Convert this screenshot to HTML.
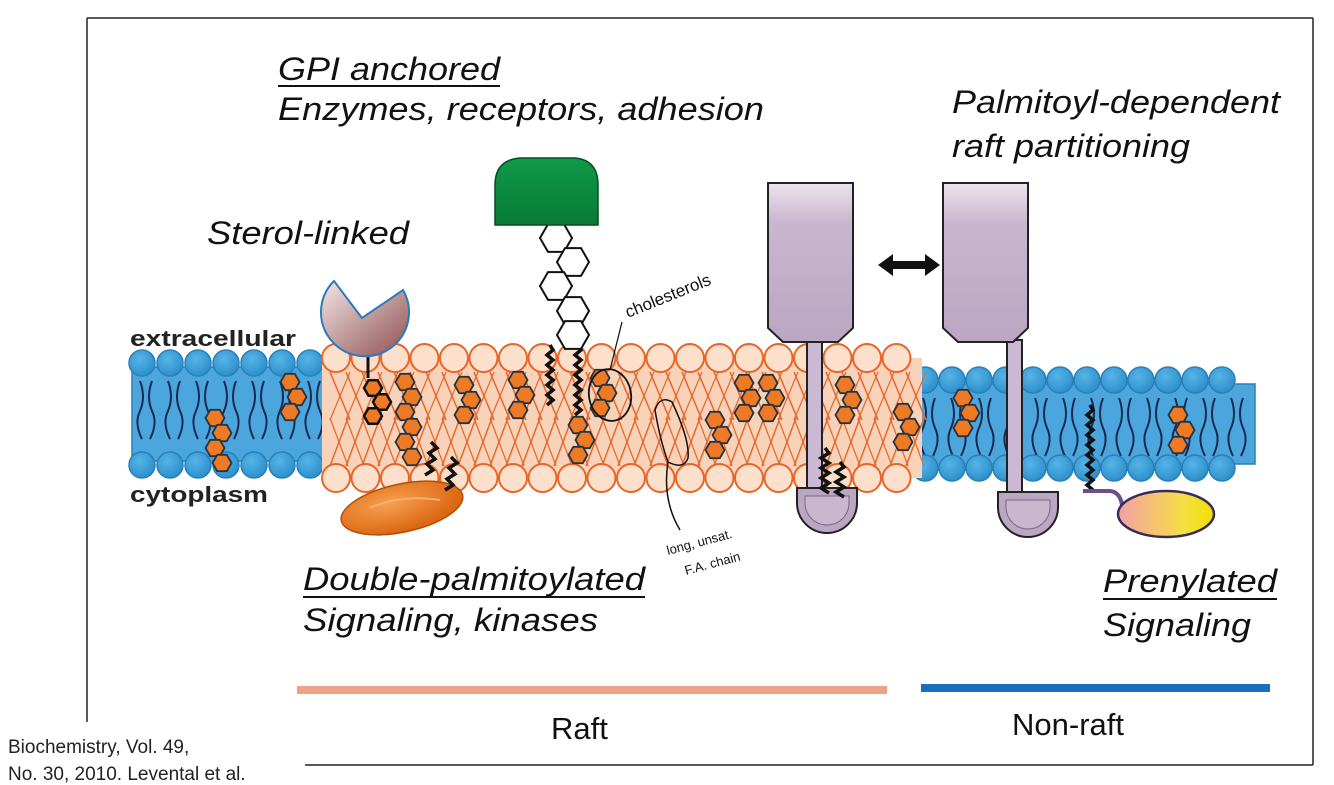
<!DOCTYPE html>
<html><head><meta charset="utf-8"><style>
html,body{margin:0;padding:0;background:#fff;}
svg{display:block;}
text{font-family:"Liberation Sans",sans-serif;}
.it{font-style:italic;font-size:32px;fill:#111;}
</style></head><body>
<svg id="s" width="1334" height="785" viewBox="0 0 1334 785" xmlns="http://www.w3.org/2000/svg">
<defs>
<linearGradient id="purp" x1="0" y1="0" x2="0" y2="1"><stop offset="0" stop-color="#ece4ee"/><stop offset="0.25" stop-color="#c9b6cf"/><stop offset="1" stop-color="#bba6c3"/></linearGradient>
<linearGradient id="grn" x1="0" y1="0" x2="0" y2="1"><stop offset="0" stop-color="#0f9a48"/><stop offset="1" stop-color="#087a36"/></linearGradient>
<linearGradient id="ster" x1="0" y1="0" x2="1" y2="1"><stop offset="0" stop-color="#f3e6e6"/><stop offset="1" stop-color="#8e4f4f"/></linearGradient>
<linearGradient id="yel" x1="0" y1="0" x2="1" y2="0"><stop offset="0" stop-color="#f4a0a8"/><stop offset="0.7" stop-color="#f5e040"/><stop offset="1" stop-color="#f0e000"/></linearGradient>
<radialGradient id="org" cx="0.4" cy="0.35" r="0.7"><stop offset="0" stop-color="#f7a050"/><stop offset="1" stop-color="#d8600a"/></radialGradient>
<radialGradient id="bh" cx="0.4" cy="0.35" r="0.7"><stop offset="0" stop-color="#55b5e8"/><stop offset="1" stop-color="#2c8cc8"/></radialGradient>
</defs>
<g stroke="#222" stroke-width="1.5" fill="none">
<line x1="87" y1="18" x2="1313" y2="18"/>
<line x1="1313" y1="18" x2="1313" y2="765"/>
<line x1="87" y1="18" x2="87" y2="722"/>
<line x1="305" y1="765" x2="1313" y2="765"/>
</g>
<g id="mem"></g>
<g id="fg"></g>

<text class="it" x="278" y="80" textLength="222" lengthAdjust="spacingAndGlyphs">GPI anchored</text>
<line x1="278" y1="86" x2="500" y2="86" stroke="#111" stroke-width="2"/>
<text class="it" x="278" y="120" textLength="486" lengthAdjust="spacingAndGlyphs">Enzymes, receptors, adhesion</text>
<text class="it" x="207" y="244" textLength="202" lengthAdjust="spacingAndGlyphs">Sterol-linked</text>
<text class="it" x="952" y="113" textLength="328" lengthAdjust="spacingAndGlyphs">Palmitoyl-dependent</text>
<text class="it" x="952" y="157" textLength="238" lengthAdjust="spacingAndGlyphs">raft partitioning</text>
<text class="it" x="303" y="590" textLength="342" lengthAdjust="spacingAndGlyphs">Double-palmitoylated</text>
<line x1="303" y1="597" x2="645" y2="597" stroke="#111" stroke-width="2"/>
<text class="it" x="303" y="631" textLength="295" lengthAdjust="spacingAndGlyphs">Signaling, kinases</text>
<text class="it" x="1103" y="592" textLength="174" lengthAdjust="spacingAndGlyphs">Prenylated</text>
<line x1="1103" y1="599" x2="1277" y2="599" stroke="#111" stroke-width="2"/>
<text class="it" x="1103" y="636" textLength="148" lengthAdjust="spacingAndGlyphs">Signaling</text>
<text x="130" y="346" font-size="22" font-weight="bold" fill="#222" textLength="166" lengthAdjust="spacingAndGlyphs">extracellular</text>
<text x="130" y="502" font-size="22" font-weight="bold" fill="#222" textLength="138" lengthAdjust="spacingAndGlyphs">cytoplasm</text>
<rect x="297" y="686" width="590" height="8" fill="#eea184"/>
<rect x="921" y="684" width="349" height="8" fill="#1a6fbf"/>
<text x="551" y="739" font-size="31" fill="#111">Raft</text>
<text x="1012" y="735" font-size="31" fill="#111">Non-raft</text>
<text x="8" y="753" font-size="19" fill="#222">Biochemistry, Vol. 49,</text>
<text x="8" y="780" font-size="19" fill="#222">No. 30, 2010.  Levental et al.</text>
<text x="628" y="318" font-size="17" fill="#111" transform="rotate(-22 628 318)" font-family="DejaVu Sans">cholesterols</text>
<text x="668" y="555" font-size="13" fill="#111" transform="rotate(-15 668 555)" font-family="DejaVu Sans">long, unsat.</text>
<text x="686" y="575" font-size="13" fill="#111" transform="rotate(-15 686 575)" font-family="DejaVu Sans">F.A. chain</text>
</svg>
<script>
const NS="http://www.w3.org/2000/svg";
const mem=document.getElementById('mem'), fg=document.getElementById('fg');
function el(p,t,a){const e=document.createElementNS(NS,t);for(const k in a)e.setAttribute(k,a[k]);p.appendChild(e);return e;}
function blueMem(x1,x2,yt,yb,sp){
  el(mem,'rect',{x:x1,y:yt+4,width:x2-x1,height:yb-yt-8,fill:'#4aa6dc',stroke:'#2b7fb5','stroke-width':1.5});
  for(let x=x1+8;x<x2-10;x+=28){
    let d=`M${x} ${yt+18} q6 16 0 30 q-6 12 2 28 M${x+12} ${yt+18} q-6 16 0 30 q6 12 -2 28`;
    el(mem,'path',{d:d,stroke:'#1a2a55','stroke-width':2,fill:'none'});
  }
  for(let x=x1+10;x<=x2-8;x+=sp){
    el(mem,'circle',{cx:x,cy:yt,r:13,fill:'url(#bh)',stroke:'#2b80b8','stroke-width':1.5});
    el(mem,'circle',{cx:x,cy:yb,r:13,fill:'url(#bh)',stroke:'#2b80b8','stroke-width':1.5});
  }
}
blueMem(132,323,363,465,28);
blueMem(915,1255,380,468,27);
el(mem,'rect',{x:322,y:358,width:600,height:120,fill:'#f9d3b9'});
for(let x=330;x<915;x+=16){
  el(mem,'line',{x1:x,y1:372,x2:x+20,y2:420,stroke:'#e8652a','stroke-width':1.5});
  el(mem,'line',{x1:x+20,y1:372,x2:x,y2:420,stroke:'#e8652a','stroke-width':1.2});
  el(mem,'line',{x1:x,y1:418,x2:x+18,y2:466,stroke:'#e8652a','stroke-width':1.2});
  el(mem,'line',{x1:x+18,y1:418,x2:x,y2:466,stroke:'#e8652a','stroke-width':1.5});
}
for(let x=336;x<=915;x+=29.5){
  el(mem,'circle',{cx:x,cy:358,r:14,fill:'#fde0cc',stroke:'#e8652a','stroke-width':2});
  el(mem,'circle',{cx:x,cy:478,r:14,fill:'#fde0cc',stroke:'#e8652a','stroke-width':2});
}
function hex(cx,cy,r,fill,stroke,sw,par){
  let p=[];for(let i=0;i<6;i++){const a=Math.PI/3*i;p.push((cx+r*Math.cos(a)).toFixed(1)+','+(cy+r*Math.sin(a)).toFixed(1));}
  el(par||fg,'polygon',{points:p.join(' '),fill:fill,stroke:stroke,'stroke-width':sw});
}
function chol(x,y,n){const offs=[0,7,0,7,0,7,0];for(let i=0;i<n;i++)hex(x+offs[i],y+i*15,9.5,'#ee7a26','#263440',1.8);}
[[215,418,4],[290,382,3],[405,382,6],[464,385,3],[518,380,3],[600,378,3],[578,425,3],[715,420,3],[744,383,3],[768,383,3],[845,385,3],[903,412,3],[963,398,3],[1178,415,3]].forEach(c=>chol(c[0],c[1],c[2]));
[[373,388],[382,402],[373,416]].forEach(c=>hex(c[0],c[1],9,'#ee7a26','#111',2.5));
el(fg,'line',{x1:368,y1:352,x2:368,y2:378,stroke:'#111','stroke-width':3});
el(fg,'path',{d:'M334 281 L362 318 L403 290 A44 44 0 1 1 334 281 Z',fill:'url(#ster)',stroke:'#2a7bbf','stroke-width':2});
function squig(x,y1,y2,amp,par){let d=`M${x} ${y1}`;let s=1;for(let y=y1;y<y2;y+=5){d+=` L${x+amp*s} ${y+5}`;s=-s;}el(par||fg,'path',{d:d,stroke:'#111','stroke-width':3.5,fill:'none'});}
squig(550,345,405,3);squig(578,345,412,3);
el(fg,'ellipse',{cx:402,cy:508,rx:62,ry:24,fill:'url(#org)',stroke:'#b34e08','stroke-width':1.5,transform:'rotate(-12 402 508)'});
el(fg,'path',{d:'M370 508 Q400 494 440 500',stroke:'#f8b070','stroke-width':2,fill:'none'});
el(fg,'path',{d:'M425 475 l8 -5 l-6 -6 l8 -5 l-6 -6 l8 -5 l-6 -6',stroke:'#111','stroke-width':3.5,fill:'none'});
el(fg,'path',{d:'M445 490 l8 -5 l-6 -6 l8 -5 l-6 -6 l8 -5 l-6 -6',stroke:'#111','stroke-width':3.5,fill:'none'});
for(const [x,y] of [[556,238],[573,262],[556,286],[573,311],[573,335]]){hex(x,y,16,'#fff','#111',2);}
el(fg,'path',{d:'M495 225 L495 185 Q495 160 520 158 L575 158 Q598 160 598 185 L598 225 Z',fill:'url(#grn)',stroke:'#064d22','stroke-width':1.5});
function purp(bx,stx,dx,dy){
  el(fg,'rect',{x:stx,y:340,width:15,height:dy-340,fill:'#cbb8d3',stroke:'#222','stroke-width':2});
  el(fg,'path',{d:`M${bx} 183 L${bx+85} 183 L${bx+85} 328 L${bx+70} 342 L${bx+15} 342 L${bx} 328 Z`,fill:'url(#purp)',stroke:'#222','stroke-width':2});
  el(fg,'path',{d:`M${dx} ${dy} L${dx+60} ${dy} L${dx+60} ${dy+15} A30 30 0 0 1 ${dx} ${dy+15} Z`,fill:'#bba6c3',stroke:'#222','stroke-width':2});
  el(fg,'path',{d:`M${dx+8} ${dy+8} L${dx+52} ${dy+8} L${dx+52} ${dy+15} A22 22 0 0 1 ${dx+8} ${dy+15} Z`,fill:'#c9b6cf',stroke:'#7a6680','stroke-width':1});
}
purp(768,807,797,488);
purp(943,1007,998,492);
squig(825,448,492,4);squig(840,462,495,4);
squig(1090,405,490,3);
el(fg,'path',{d:'M1083 491 L1110 491 Q1120 492 1122 505 L1128 518',stroke:'#6a4f8a','stroke-width':4,fill:'none'});
el(fg,'ellipse',{cx:1166,cy:514,rx:48,ry:23,fill:'url(#yel)',stroke:'#3a2a5a','stroke-width':2.5});
el(fg,'path',{d:'M878 265 L893 254 L893 261 L925 261 L925 254 L940 265 L925 276 L925 269 L893 269 L893 276 Z',fill:'#111'});
el(fg,'ellipse',{cx:610,cy:395,rx:21,ry:26,fill:'none',stroke:'#111','stroke-width':1.8,transform:'rotate(-10 610 395)'});
el(fg,'path',{d:'M610 370 L622 322',stroke:'#111','stroke-width':1.2,fill:'none'});
el(fg,'path',{d:'M655 410 Q660 395 672 402 Q690 440 688 458 Q684 470 668 462 Q660 440 655 410 M668 462 Q662 500 680 530',stroke:'#111','stroke-width':1.5,fill:'none'});
</script>
</body></html>
